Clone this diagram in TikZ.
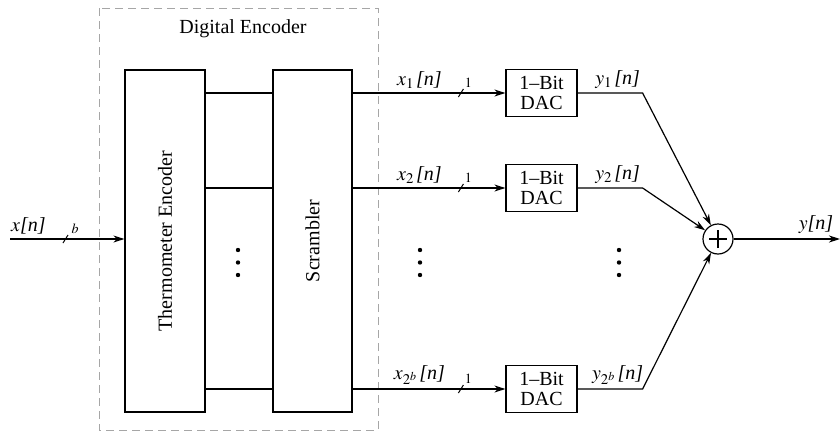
\documentclass[tikz,border=0pt]{standalone}
\usepackage{mathptmx}
\usepackage{fontspec}
\setmainfont{Liberation Serif}
\usetikzlibrary{arrows.meta}

\tikzstyle{block}=[draw, line width=1.2pt, inner sep=0pt, align=center]
\tikzstyle{sig}=[line width=1.2pt]
\tikzstyle{arr}=[sig, -{Stealth[length=11pt, width=7pt, inset=3.5pt]}]
\tikzstyle{lbl}=[inner sep=1pt]
\tikzstyle{bus}=[line width=1pt]

\begin{document}
\begin{tikzpicture}[x=1pt, y=-1pt, font=\fontsize{20}{20}\selectfont]
				\useasboundingbox (0,0) rectangle (840,431);

				% Digital encoder frame
				\draw[gray!70, line width=0.9pt, dash pattern=on 8pt off 5pt] (99,8) rectangle (378,430);
				\node[lbl] (titl) at (243,29) {Digital Encoder};

				% Blocks
				\node[block, minimum width=80pt, minimum height=342pt] (therm) at (165,241) {};
				\node[rotate=90] at (therm.center) {Thermometer Encoder};
				\node[block, minimum width=79pt, minimum height=342pt] (scr) at (312.5,241) {};
				\node[rotate=90] at (scr.center) {Scrambler};

				\node[block, minimum width=71pt, minimum height=47pt] (dac1) at (541.5,93) {1--Bit\\DAC};
				\node[block, minimum width=71pt, minimum height=47pt] (dac2) at (541.5,188) {1--Bit\\DAC};
				\node[block, minimum width=71pt, minimum height=47pt] (dac3) at (541.5,389) {1--Bit\\DAC};

				\node[circle, draw, line width=1.2pt, minimum size=30pt, inner sep=0pt] (sum) at (718,239) {};
				\draw[line width=1.2pt] ([yshift=-9pt]sum.center) -- ([yshift=9pt]sum.center)
					([xshift=-9pt]sum.center) -- ([xshift=9pt]sum.center);

				% Input
				\coordinate (xin) at (10,239);
				\draw[arr] (xin) -- (therm.west |- xin);
				\node[lbl, anchor=south west] (xlbl) at (10,235) {$x$\textit{[n]}};
				\draw[bus] (63,243) -- (68,235);
				\node[lbl, font=\fontsize{14}{14}\selectfont] (blbl) at (75,229) {$b$};

				% Thermometer -> Scrambler
				\foreach \y in {93, 188, 389}{
					\draw[sig] (therm.east |- 0,\y) -- (scr.west |- 0,\y);
				}
				\foreach \y in {250, 262.5, 275}{
					\fill (238,\y) circle (2.2pt);
					\fill (420,\y) circle (2.2pt);
					\fill (619,\y) circle (2.2pt);
				}

				% Scrambler -> DACs
				\foreach \d/\s in {dac1/1, dac2/2, dac3/{2^b}}{
					\draw[arr] (scr.east |- \d.west) -- (\d.west);
					\draw[bus] ([xshift=-47pt, yshift=-4pt]\d.west) -- ([xshift=-42pt, yshift=4pt]\d.west);
					\node[lbl, font=\fontsize{14}{14}\selectfont] at ([xshift=-37pt, yshift=10pt]\d.west) {$1$};
					\node[lbl, anchor=south] at ([xshift=-86pt, yshift=3pt]\d.west) {$x_{\s}\,$\textit{[n]}};
					\coordinate (\d bend) at ([xshift=65pt]\d.east);
					\draw[arr] (\d.east) -- (\d bend) -- (sum);
					\node[lbl, anchor=south] at ([xshift=40pt, yshift=3pt]\d.east) {$y_{\s}\,$\textit{[n]}};
				}

				% Output
				\coordinate (yout) at (840,239);
				\draw[arr] (sum) -- (yout);
				\node[lbl, anchor=south] (ylbl) at (816,235) {$y$\textit{[n]}};
			\end{tikzpicture}
\end{document}
